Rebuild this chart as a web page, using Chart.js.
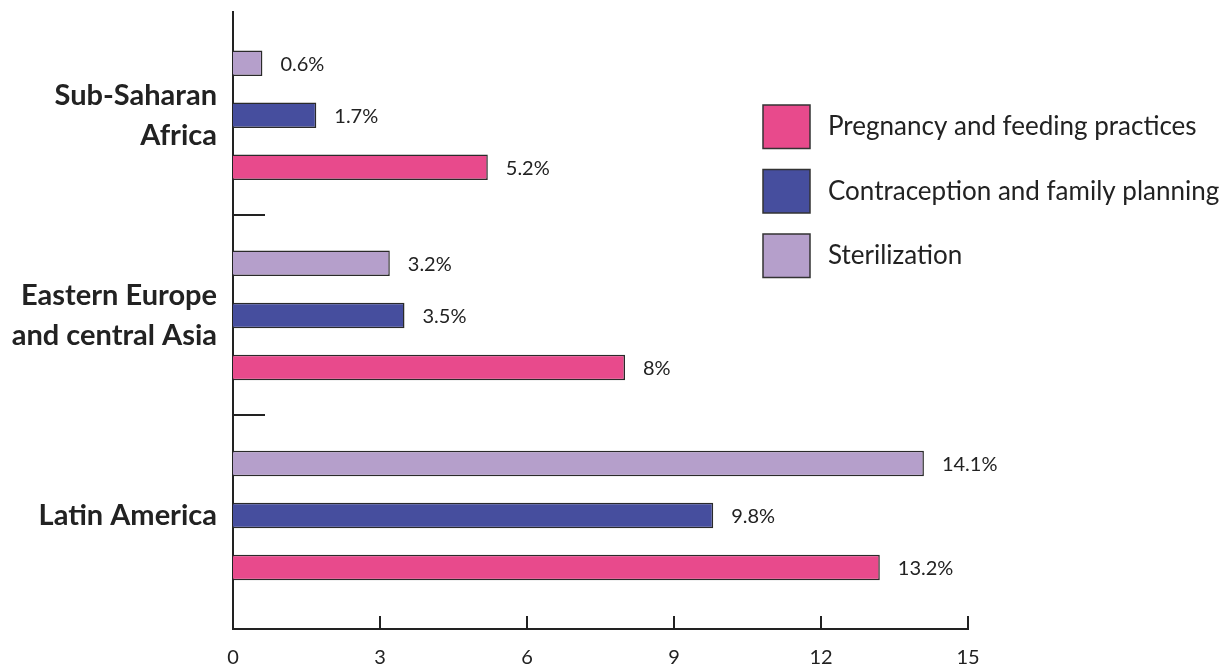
<!DOCTYPE html>
<html>
<head>
<meta charset="utf-8">
<script src="https://cdn.jsdelivr.net/npm/chart.js@4.4.1/dist/chart.umd.min.js"></script>
<style>
  html, body { margin: 0; padding: 0; background: #ffffff; }
  #wrap { width: 1231px; height: 669px; }
</style>
</head>
<body>
<div id="wrap"><canvas id="c" width="1231" height="669"></canvas></div>
<script>
// ---- data ----
const categories = ['Sub-Saharan Africa', 'Eastern Europe and central Asia', 'Latin America'];
const categoryTickLabels = [['Sub-Saharan', 'Africa'], ['Eastern Europe', 'and central Asia'], ['Latin America']];
const seriesNames = ['Sterilization', 'Contraception and family planning', 'Pregnancy and feeding practices'];
const sterilization = [0.6, 3.2, 14.1];
const contraception = [1.7, 3.5, 9.8];
const pregnancy = [5.2, 8, 13.2];
const xTicks = [0, 3, 6, 9, 12, 15];

const colors = ['#B59FCB', '#464E9E', '#E84A8C'];
const INK = '#222222';
const FONT = 'Lato, "Open Sans", sans-serif';

function toPoints(values) {
  return values.map((v, i) => ({ x: v, y: i }));
}

const seriesValues = [sterilization, contraception, pregnancy];

const innerMarks = {
  id: 'innerMarks',
  afterDraw(chart) {
    const ctx = chart.ctx;
    const xs = chart.scales.x, ys = chart.scales.y;
    const area = chart.chartArea;
    ctx.save();
    ctx.strokeStyle = INK;
    ctx.lineWidth = 2;
    xTicks.forEach(v => {
      if (v === 0) return;
      const px = Math.round(xs.getPixelForValue(v));
      ctx.beginPath();
      ctx.moveTo(px, area.bottom);
      ctx.lineTo(px, area.bottom - 13);
      ctx.stroke();
    });
    for (let i = 0; i < categories.length - 1; i++) {
      const py = Math.round(ys.getPixelForValue(i + 0.5));
      ctx.beginPath();
      ctx.moveTo(area.left, py);
      ctx.lineTo(area.left + 32, py);
      ctx.stroke();
    }
    ctx.restore();
  }
};

const valueLabels = {
  id: 'valueLabels',
  afterDatasetsDraw(chart) {
    const ctx = chart.ctx;
    ctx.save();
    ctx.font = '20px ' + FONT;
    ctx.fillStyle = INK;
    ctx.textAlign = 'left';
    ctx.textBaseline = 'middle';
    chart.data.datasets.forEach((ds, di) => {
      const meta = chart.getDatasetMeta(di);
      meta.data.forEach((bar, i) => {
        ctx.fillText(seriesValues[di][i] + '%', bar.x + 18, bar.y + 1);
      });
    });
    ctx.restore();
  }
};

const customLegend = {
  id: 'customLegend',
  afterDraw(chart) {
    const ctx = chart.ctx;
    const items = chart.data.datasets.map((ds) => ({ label: ds.label, color: ds.backgroundColor })).reverse();
    ctx.save();
    items.forEach((it, i) => {
      const bx = 763, by = 105 + i * 64.5, bw = 47, bh = 43.5;
      ctx.fillStyle = it.color;
      ctx.fillRect(bx, by, bw, bh);
      ctx.strokeStyle = '#333333';
      ctx.lineWidth = 1.5;
      ctx.strokeRect(bx, by, bw, bh);
      ctx.fillStyle = INK;
      ctx.font = '26px ' + FONT;
      ctx.textAlign = 'left';
      ctx.textBaseline = 'middle';
      ctx.fillText(it.label, 828, by + bh / 2);
    });
    ctx.restore();
  }
};

function build() {
  new Chart(document.getElementById('c'), {
    type: 'bar',
    data: {
      datasets: seriesNames.map((name, i) => ({
        label: name,
        data: toPoints(seriesValues[i]),
        backgroundColor: colors[i],
        borderColor: '#2a2a2a',
        borderWidth: 1.5,
        categoryPercentage: 0.78,
        barPercentage: 0.49
      }))
    },
    options: {
      indexAxis: 'y',
      responsive: false,
      animation: false,
      layout: { padding: { top: 12, right: 263, bottom: 0, left: 0 } },
      plugins: {
        legend: { display: false },
        tooltip: { enabled: false }
      },
      scales: {
        x: {
          type: 'linear',
          min: 0,
          max: 15,
          afterBuildTicks(s) { s.ticks = xTicks.map(v => ({ value: v })); },
          afterFit(s) { s.height = 40; s.paddingLeft = 0; s.paddingRight = 0; },
          grid: { display: false, drawTicks: false },
          border: { display: true, color: INK, width: 2 },
          ticks: {
            padding: 17,
            color: INK,
            font: { family: FONT, size: 20 }
          }
        },
        y: {
          type: 'linear',
          reverse: true,
          min: -0.516,
          max: 2.567,
          offset: false,
          bounds: 'data',
          afterBuildTicks(s) { s.ticks = categories.map((c, i) => ({ value: i })); },
          afterFit(s) { s.width = 233; s.paddingTop = 0; s.paddingBottom = 0; },
          grid: { display: false, drawTicks: false, offset: false },
          border: { display: true, color: INK, width: 2 },
          ticks: {
            padding: 16,
            color: INK,
            font: { family: FONT, size: 29, weight: 'bold', lineHeight: 1.38 },
            callback: (v) => categoryTickLabels[v] || ''
          }
        }
      }
    },
    plugins: [innerMarks, valueLabels, customLegend]
  });
}

if (document.fonts && document.fonts.load) {
  Promise.all([
    document.fonts.load('20px Lato'),
    document.fonts.load('bold 29px Lato')
  ]).then(build, build);
} else {
  build();
}
</script>
</body>
</html>
